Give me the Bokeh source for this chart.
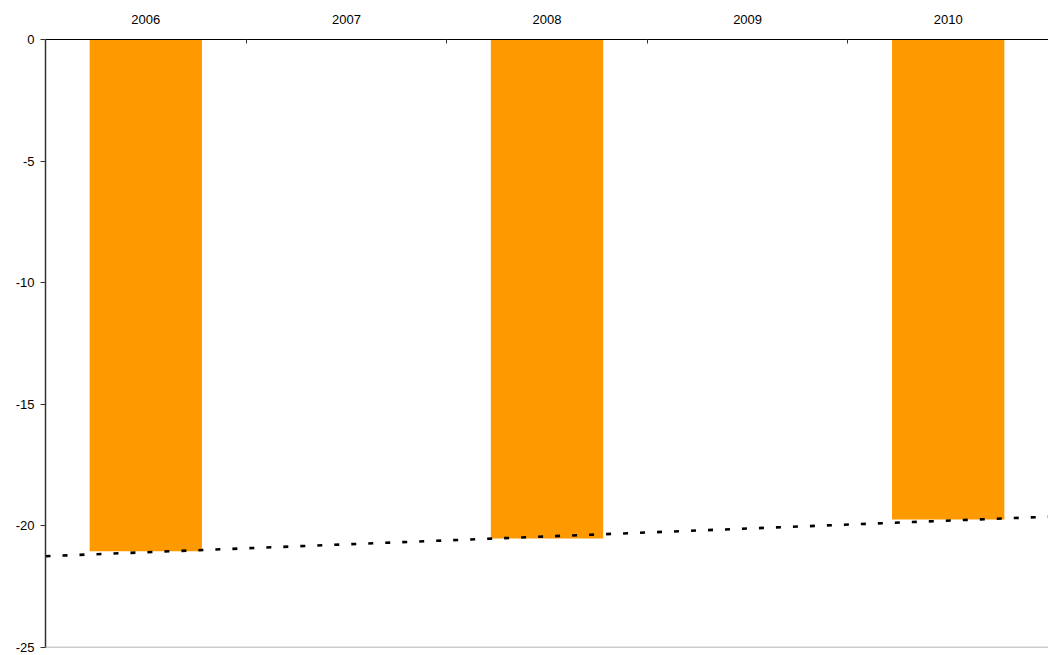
import numpy as np
from bokeh.plotting import figure
from bokeh.models import Range1d, LinearAxis, FixedTicker, Span, ColumnDataSource
from bokeh.embed import file_html
from bokeh.resources import INLINE

# ---- data ----
years = ["2006", "2007", "2008", "2009", "2010"]
values = [-21.04, None, -20.52, None, -19.74]
y_ticks = [0, -5, -10, -15, -20, -25]

pos = [i + 0.5 for i in range(len(years))]
bx = [p_ for p_, v in zip(pos, values) if v is not None]
bv = [v for v in values if v is not None]

# linear trendline through the existing values (as in the source chart)
slope, intercept = np.polyfit(bx, bv, 1)
tx = [0, len(years)]
ty = [intercept + slope * x for x in tx]

p = figure(width=1048, height=655, output_backend="svg", toolbar_location=None,
           x_range=Range1d(0, len(years)), y_range=Range1d(-25, 0),
           x_axis_location=None, y_axis_location=None,
           min_border_left=45, min_border_top=39, min_border_right=0, min_border_bottom=8)
p.outline_line_color = None
p.xgrid.visible = False
p.ygrid.visible = False
p.background_fill_color = "white"

FONT = "Liberation Sans"

src = ColumnDataSource(dict(x=bx, top=[0] * len(bv), bottom=bv))
p.vbar(x="x", top="top", bottom="bottom", width=0.56, source=src,
       fill_color="#FF9900", line_color=None)

p.line(tx, ty, line_color="black", line_width=2.6, line_dash="5 12")

# bottom border of plot area
p.add_layout(Span(location=-25, dimension="width", line_color="#999999", line_width=1.5))

# top category axis
xa = LinearAxis(ticker=FixedTicker(ticks=pos, minor_ticks=[1, 2, 3, 4]))
xa.major_label_overrides = {pp: y for pp, y in zip(pos, years)}
xa.major_tick_out = 0
xa.major_tick_in = 0
xa.minor_tick_in = 4
xa.minor_tick_out = 0
xa.minor_tick_line_color = "#333333"
xa.axis_line_color = "black"
xa.axis_line_width = 1.2
xa.major_label_standoff = 16
xa.major_label_text_font = FONT
xa.major_label_text_font_size = "13px"
xa.major_label_text_color = "black"
p.add_layout(xa, "above")

# left value axis
ya = LinearAxis(ticker=FixedTicker(ticks=y_ticks, minor_ticks=[]))
ya.major_label_overrides = {t: str(t) for t in y_ticks}
ya.major_tick_out = 5
ya.major_tick_in = 0
ya.major_tick_line_color = "#333333"
ya.axis_line_color = "#333333"
ya.axis_line_width = 1.5
ya.major_label_standoff = 6
ya.major_label_text_font = FONT
ya.major_label_text_font_size = "13px"
ya.major_label_text_color = "black"
p.add_layout(ya, "left")

open("out.html", "w").write(file_html(p, INLINE))
